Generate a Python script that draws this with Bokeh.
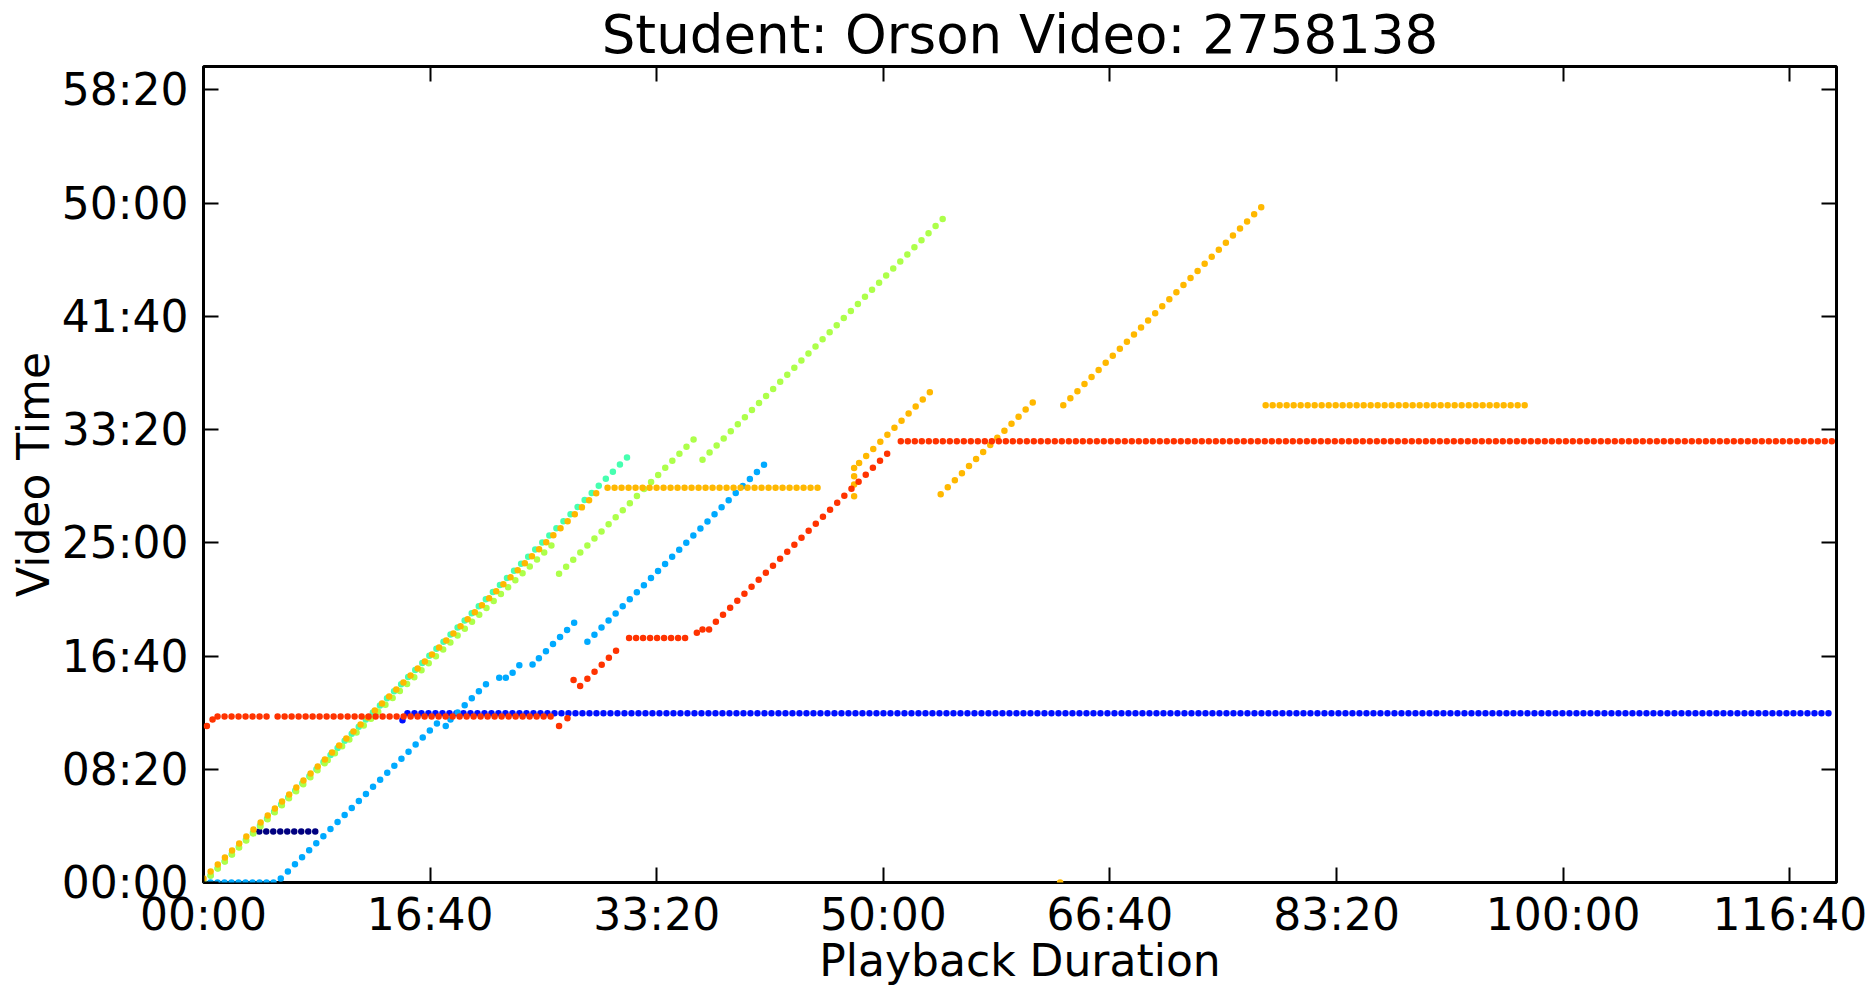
from bokeh.plotting import figure
from bokeh.models import FixedTicker, LinearAxis, Range1d
from bokeh.embed import file_html
from bokeh.resources import INLINE

# ---------------- data (seconds) ----------------
x_tick_values = [0, 1000, 2000, 3000, 4000, 5000, 6000, 7000]
x_tick_labels = ["00:00", "16:40", "33:20", "50:00", "66:40", "83:20", "100:00", "116:40"]
y_tick_values = [0, 500, 1000, 1500, 2000, 2500, 3000, 3500]
y_tick_labels = ["00:00", "08:20", "16:40", "25:00", "33:20", "41:40", "50:00", "58:20"]

# runs of samples: (playback start, video start, playback end, video end)
navy_runs = [(246, 225, 496, 225)]
navy_dots = []

blue_runs = [(900, 747, 7200, 747)]
blue_dots = [(878, 716)]

lightblue_runs = [(0, 0, 334, 0), (341, 18, 1055, 727), (1090, 720, 1275, 904),
                  (1364, 926, 1422, 990), (1480, 990, 1636, 1147), (1694, 1063, 2474, 1845)]
lightblue_dots = [(1069, 691), (1305, 904), (1334, 904), (1452, 963)]

aqua_runs = [(0, 0, 1878, 1886)]
aqua_dots = []

green_runs = [(0, 0, 548, 540), (548, 540, 1540, 1492), (1569, 1363, 2177, 1970),
              (2202, 1867, 3285, 2953)]
green_dots = []

orange_runs = [(0, 18, 1753, 1738), (1783, 1743, 2716, 1743), (2893, 1852, 3226, 2185),
               (3253, 1714, 3677, 2137), (3794, 2107, 4668, 2982), (4687, 2107, 5840, 2107)]
orange_dots = [(2871, 1706), (2871, 1757), (2871, 1794), (2871, 1830), (3780, 0)]

red_runs = [(62, 733, 290, 733), (327, 733, 1540, 733), (1694, 900, 1849, 1051),
            (1878, 1080, 2143, 1080), (2261, 1151, 3047, 1923), (3077, 1948, 7200, 1948)]
red_dots = [(15, 691), (40, 720), (1569, 691), (1606, 725), (1633, 894), (1662, 868),
            (2177, 1103), (2202, 1117), (2231, 1117)]

series = [
    ("#000080", navy_runs, navy_dots),
    ("#0010ff", blue_runs, blue_dots),
    ("#00aaff", lightblue_runs, lightblue_dots),
    ("#46ffb0", aqua_runs, aqua_dots),
    ("#adff4a", green_runs, green_dots),
    ("#ffb800", orange_runs, orange_dots),
    ("#ff3300", red_runs, red_dots),
]

FONT = "DejaVu Sans"
DOT = 6.5

p = figure(width=1872, height=988,
           x_range=Range1d(0, 7206), y_range=Range1d(0, 3603),
           output_backend="svg", toolbar_location=None,
           min_border_left=203, min_border_right=36, min_border_top=65, min_border_bottom=106,
           background_fill_color="white", border_fill_color="white",
           title="Student: Orson Video: 2758138")
p.title.align = "center"
p.title.text_font = FONT
p.title.text_font_size = "53px"
p.title.text_font_style = "normal"
p.title.text_color = "black"
p.title.standoff = 3

p.xgrid.grid_line_color = None
p.ygrid.grid_line_color = None
p.outline_line_color = "black"
p.outline_line_width = 3
p.outline_line_alpha = 1.0

for color, runs, dots in series:
    flat = [r for r in runs if r[1] == r[3]]
    slope = [r for r in runs if r[1] != r[3]]
    for group, dash in ((flat, "0 7"), (slope, "0 10")):
        if group:
            p.segment(x0=[r[0] for r in group], y0=[r[1] for r in group],
                      x1=[r[2] for r in group], y1=[r[3] for r in group],
                      line_color=color, line_width=DOT, line_cap="round", line_dash=dash)
    if dots:
        p.scatter(x=[d[0] for d in dots], y=[d[1] for d in dots], size=DOT,
                  fill_color=color, line_color=None)


def style_axis(ax, values, labels, standoff):
    ax.ticker = FixedTicker(ticks=values)
    ax.axis_line_color = None
    ax.major_tick_in = 15
    ax.major_tick_out = 0
    ax.major_tick_line_color = "black"
    ax.major_tick_line_width = 2
    ax.minor_tick_line_color = None
    ax.major_label_text_font = FONT
    ax.major_label_text_color = "black"
    ax.major_label_standoff = standoff
    ax.axis_label_text_font = FONT
    ax.axis_label_text_font_size = "44px"
    ax.axis_label_text_font_style = "normal"
    ax.axis_label_text_color = "black"
    if labels is None:
        ax.major_label_text_font_size = "0px"
        ax.major_label_overrides = {v: "" for v in values}
    else:
        ax.major_label_text_font_size = "44px"
        ax.major_label_overrides = {v: s for v, s in zip(values, labels)}


style_axis(p.xaxis[0], x_tick_values, x_tick_labels, 6)
p.xaxis[0].axis_label = "Playback Duration"
p.xaxis[0].axis_label_standoff = -8
style_axis(p.yaxis[0], y_tick_values, y_tick_labels, 15)
p.yaxis[0].axis_label = "Video Time"
p.yaxis[0].axis_label_standoff = 0

top_ax = LinearAxis()
style_axis(top_ax, x_tick_values, None, 0)
right_ax = LinearAxis()
style_axis(right_ax, y_tick_values, None, 0)
p.add_layout(top_ax, "above")
p.add_layout(right_ax, "right")

open("out.html", "w").write(file_html(p, INLINE))
